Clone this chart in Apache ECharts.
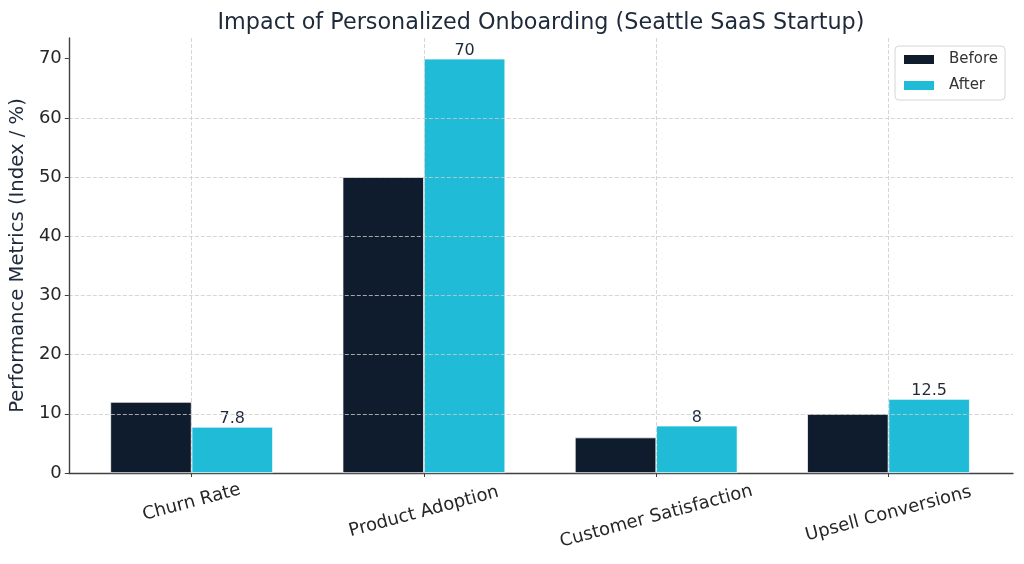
<!DOCTYPE html>
<html>
<head>
<meta charset="utf-8">
<script src="https://cdn.jsdelivr.net/npm/echarts@6/dist/echarts.min.js"></script>
<style>
  html, body { margin: 0; padding: 0; background: #fff; }
  #chart { width: 1024px; height: 564px; }
</style>
</head>
<body>
<div id="chart"></div>
<script>
const categories = ["Churn Rate", "Product Adoption", "Customer Satisfaction", "Upsell Conversions"];
const beforeValues = [12, 50, 6, 10];
const afterValues = [7.8, 70, 8, 12.5];
const yTickValues = [0, 10, 20, 30, 40, 50, 60, 70];
const yMax = 73.5;

// extra top padding per label so rotated labels hang like matplotlib's
const labelPad = [[0, 0, 0, 0], [18, 5, 0, 0], [27, 7, 0, 0], [22, 6, 0, 0]];

const FONT = "DejaVu Sans";
const NAVY = "#1e2a3a";
const GRID_LINE = { color: "#cccccc", width: 0.8, type: [4, 2] };

const labelRich = {};
labelPad.forEach((p, i) => {
  labelRich["c" + i] = { fontFamily: FONT, fontSize: 18, color: "#262626", padding: p };
});

const chart = echarts.init(document.getElementById("chart"));

const plotTop = 38;
const plotBottom = 564 - 473;

chart.setOption({
  backgroundColor: "#ffffff",
  animation: false,
  textStyle: { fontFamily: FONT },
  title: {
    text: "Impact of Personalized Onboarding (Seattle SaaS Startup)",
    left: 536,
    textAlign: "center",
    top: 7,
    textStyle: { fontFamily: FONT, fontSize: 22.3, fontWeight: "normal", color: NAVY }
  },
  legend: {
    orient: "vertical",
    left: 895,
    top: 46,
    padding: [6, 7, 7, 7],
    itemWidth: 32,
    itemHeight: 11,
    itemGap: 11,
    icon: "rect",
    backgroundColor: "#ffffff",
    borderColor: "#d6d6d6",
    borderWidth: 1,
    borderRadius: 4,
    z: 20,
    textStyle: { fontFamily: FONT, fontSize: 15, color: "#333333", padding: [0, 0, 0, 9] },
    data: ["Before", "After"]
  },
  grid: [
    // frame: y axis, horizontal grid, bottom spine
    { left: 67, right: 11, top: plotTop, bottom: plotBottom },
    // bars and category labels
    { left: 75.5, right: 19.4, top: plotTop, bottom: plotBottom },
    // vertical grid lines at category centres
    { left: 191.7, right: 135.5, top: plotTop, bottom: plotBottom }
  ],
  xAxis: [
    {
      gridIndex: 0, type: "value", min: 0, max: 1,
      axisLine: { show: true, lineStyle: { color: "#404040", width: 1.4 } },
      axisTick: { show: false }, axisLabel: { show: false }, splitLine: { show: false }
    },
    {
      gridIndex: 1, type: "category", data: categories.map(c => ({
        value: c,
        textStyle: { align: "center", verticalAlign: "middle" }
      })),
      axisLine: { show: false },
      axisTick: { show: true, alignWithLabel: true, length: 4, lineStyle: { color: "#404040" } },
      axisLabel: {
        rotate: 15, margin: 29.5, interval: 0,
        fontFamily: FONT, fontSize: 18, color: "#262626",
        formatter: (v, i) => "{c" + i + "|" + v + "}",
        rich: labelRich
      },
      splitLine: { show: false }
    },
    {
      gridIndex: 2, type: "value", min: 0, max: 3, interval: 1, z: 10,
      axisLine: { show: false }, axisTick: { show: false }, axisLabel: { show: false },
      splitLine: { show: true, lineStyle: GRID_LINE }
    }
  ],
  yAxis: [
    {
      gridIndex: 0, type: "value", min: 0, max: yMax, interval: 10, z: 10,
      name: "Performance Metrics (Index / %)",
      nameLocation: "middle",
      nameGap: 34,
      nameTextStyle: { fontFamily: FONT, fontSize: 19.6, color: NAVY },
      axisLine: { show: true, lineStyle: { color: "#404040", width: 1.4 } },
      axisTick: { show: true, length: 4, customValues: yTickValues, lineStyle: { color: "#404040" } },
      axisLabel: { fontFamily: FONT, fontSize: 18, color: "#262626", margin: 7, customValues: yTickValues },
      splitLine: { show: true, showMaxLine: false, showMinLine: false, lineStyle: GRID_LINE }
    },
    { gridIndex: 1, type: "value", min: 0, max: yMax, show: false, splitLine: { show: false } },
    { gridIndex: 2, type: "value", min: 0, max: yMax, show: false, splitLine: { show: false } }
  ],
  series: [
    {
      name: "Before", type: "bar", xAxisIndex: 1, yAxisIndex: 1,
      data: beforeValues, barWidth: "35%", barGap: "0%",
      itemStyle: { color: "#0f1c2e", borderColor: "#ffffff", borderWidth: 0.7 }
    },
    {
      name: "After", type: "bar", xAxisIndex: 1, yAxisIndex: 1,
      data: afterValues, barWidth: "35%", barGap: "0%",
      itemStyle: { color: "#1fbbd7", borderColor: "#ffffff", borderWidth: 0.7 },
      label: { show: true, position: "top", distance: 1, offset: [0, 1], fontFamily: FONT, fontSize: 16, color: NAVY }
    }
  ]
});
</script>
</body>
</html>
